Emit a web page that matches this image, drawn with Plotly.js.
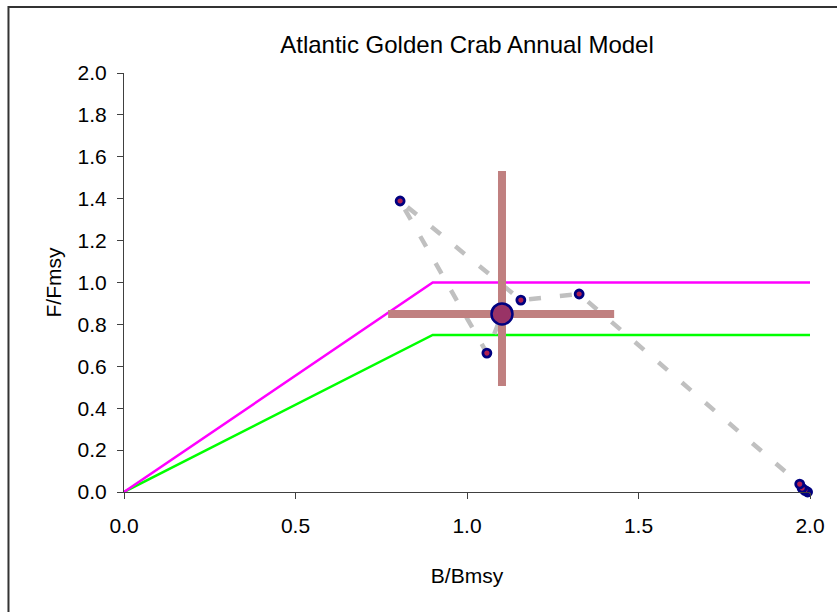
<!DOCTYPE html>
<html>
<head>
<meta charset="utf-8">
<script src="https://cdn.plot.ly/plotly-3.0.1.min.js"></script>
<style>html,body{margin:0;padding:0;background:#fff;}#chart{width:837px;height:612px;}</style>
</head>
<body>
<div id="chart"></div>
<script>
// Control rule lines
const ruleB = [0.0, 0.9, 2.0];
const mfmtF = [0.0, 1.0, 1.0];   // magenta (MFMT) line
const targetF = [0.0, 0.75, 0.75]; // green (target) line

// Annual trajectory (B/Bmsy, F/Fmsy), in time order
const trajB = [1.993, 1.985, 1.977, 1.970, 1.327, 1.157, 0.805, 1.058, 1.102];
const trajF = [0.000, 0.008, 0.018, 0.038, 0.945, 0.916, 1.389, 0.663, 0.850];

// Historical points (small markers)
const histB = [1.993, 1.985, 1.977, 1.970, 1.327, 1.157, 0.805, 1.058];
const histF = [0.000, 0.008, 0.018, 0.038, 0.945, 0.916, 1.389, 0.663];

// Current status with uncertainty
const curB = [1.102];
const curF = [0.850];
const curBlow = [0.770];
const curBhigh = [1.429];
const curFlow = [0.506];
const curFhigh = [1.532];

const xTicks = [0, 0.5, 1.0, 1.5, 2.0];
const xTickText = ['0.0', '0.5', '1.0', '1.5', '2.0'];
const yTicks = [0, 0.2, 0.4, 0.6, 0.8, 1.0, 1.2, 1.4, 1.6, 1.8, 2.0];
const yTickText = ['0.0', '0.2', '0.4', '0.6', '0.8', '1.0', '1.2', '1.4', '1.6', '1.8', '2.0'];

const FONT = 'Liberation Sans, Arial, sans-serif';

const traces = [
  {x: ruleB, y: targetF, mode: 'lines', line: {color: '#00FF00', width: 2.5}, hoverinfo: 'skip', cliponaxis: false},
  {x: ruleB, y: mfmtF, mode: 'lines', line: {color: '#FF00FF', width: 2.5}, hoverinfo: 'skip', cliponaxis: false},
  {x: trajB, y: trajF, mode: 'lines', line: {color: '#C0C0C0', width: 4.5, dash: '12px,19px'}, hoverinfo: 'skip', cliponaxis: false},
  {x: histB, y: histF, mode: 'markers', marker: {size: 8, color: '#B02050', line: {color: '#000080', width: 2.8}}, cliponaxis: false},
  {x: curB, y: curF, mode: 'markers', cliponaxis: false,
   marker: {size: 21, color: '#993366', line: {color: '#000080', width: 2.5}},
   error_x: {type: 'data', symmetric: false,
             array: curBhigh.map((v, i) => v - curB[i]),
             arrayminus: curB.map((v, i) => v - curBlow[i]),
             color: '#C08080', thickness: 8, width: 0},
   error_y: {type: 'data', symmetric: false,
             array: curFhigh.map((v, i) => v - curF[i]),
             arrayminus: curF.map((v, i) => v - curFlow[i]),
             color: '#C08080', thickness: 8, width: 0}}
];

const layout = {
  width: 837, height: 612,
  margin: {l: 124, r: 27, t: 73, b: 120},
  paper_bgcolor: '#FFFFFF', plot_bgcolor: '#FFFFFF',
  showlegend: false,
  font: {family: FONT, color: '#000000', size: 20},
  title: {text: 'Atlantic Golden Crab Annual Model', font: {family: FONT, size: 24, color: '#000'},
          x: 0.5, xref: 'paper', xanchor: 'center', y: 1 - 45/612, yanchor: 'middle'},
  xaxis: {
    range: [0, 2], tickvals: xTicks, ticktext: xTickText,
    showgrid: false, zeroline: false, showline: true, linecolor: '#404040', linewidth: 1,
    ticks: 'outside', ticklen: 6, tickcolor: '#404040', tickwidth: 1,
    tickfont: {family: FONT, size: 21}, ticklabelstandoff: 9,
    title: {text: 'B/Bmsy', font: {family: FONT, size: 21}, standoff: 32},
    automargin: false, fixedrange: true
  },
  yaxis: {
    range: [0, 2], tickvals: yTicks, ticktext: yTickText,
    showgrid: false, zeroline: false, showline: true, linecolor: '#404040', linewidth: 1,
    ticks: 'outside', ticklen: 6, tickcolor: '#404040', tickwidth: 1,
    tickfont: {family: FONT, size: 21}, ticklabelstandoff: 6,
    title: {text: 'F/Fmsy', font: {family: FONT, size: 21}, standoff: 10},
    automargin: false, fixedrange: true
  },
  shapes: [
    {type: 'path', xref: 'paper', yref: 'paper',
     path: 'M -0.1684 -1 L -0.1684 1.1575 L 2 1.1575',
     line: {color: '#333333', width: 2}}
  ]
};

Plotly.newPlot('chart', traces, layout, {staticPlot: true, displayModeBar: false});
</script>
</body>
</html>
